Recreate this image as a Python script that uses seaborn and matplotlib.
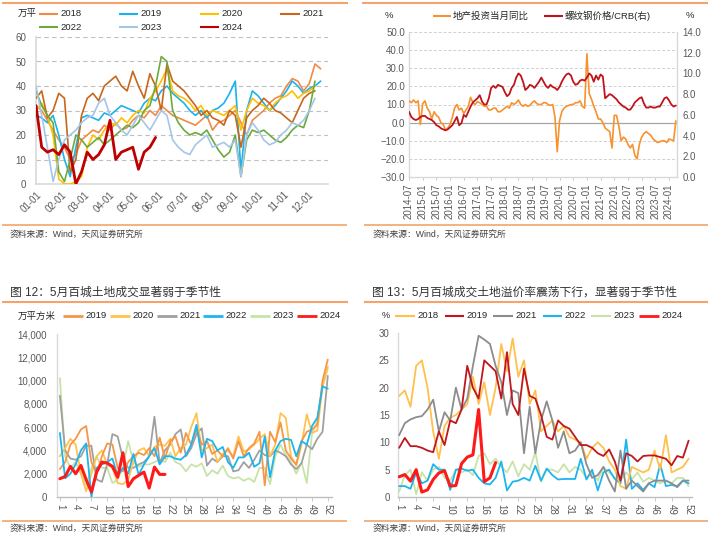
import numpy as np
import matplotlib
matplotlib.use('Agg')
import matplotlib.pyplot as plt
import seaborn as sns
from matplotlib.lines import Line2D

# ---------------- data ----------------
# Panel 1: weekly transaction area (万平), by year
tl_2018 = [32, 30, 26, 22, 18, 15, 10, 12, 18, 20, 22, 21, 24, 22, 25, 22, 23, 26, 28, 27, 30, 28, 32, 30,
           28, 27, 26, 25, 24, 26, 28, 22, 25, 26, 28, 30, 25, 20, 26, 28, 30, 33, 35, 36, 40, 43, 42, 38, 41, 49, 47]
tl_2019 = [28, 27, 25, 28, 20, 10, 3, 15, 27, 28, 27, 26, 29, 28, 30, 32, 31, 30, 29, 33, 35, 34, 38, 40,
           37, 35, 33, 30, 28, 30, 27, 30, 31, 33, 37, 42, 5, 30, 38, 36, 33, 30, 32, 35, 38, 42, 40, 37, 39, 40, 42]
tl_2020 = [30, 33, 28, 20, 2, 0, 0, 1, 3, 15, 20, 18, 22, 25, 24, 27, 25, 28, 30, 29, 35, 38, 42, 47,
           38, 36, 35, 33, 30, 32, 28, 30, 29, 28, 30, 32, 22, 30, 35, 33, 32, 30, 33, 35, 36, 38, 35, 37, 38, 40]
tl_2021 = [35, 38, 27, 30, 37, 35, 5, 10, 28, 35, 37, 34, 40, 42, 44, 40, 38, 46, 40, 35, 45, 40, 30, 49,
           42, 40, 38, 35, 32, 28, 30, 27, 26, 24, 30, 28, 15, 27, 30, 32, 35, 33, 30, 29, 27, 25, 30, 35, 37, 38]
tl_2022 = [38, 32, 28, 25, 5, 1, 10, 20, 18, 15, 17, 19, 16, 18, 20, 22, 24, 23, 25, 30, 32, 40, 52, 50,
           30, 25, 22, 20, 21, 20, 22, 18, 14, 11, 13, 20, 3, 18, 22, 21, 22, 20, 18, 17, 19, 22, 24, 23, 30, 42]
tl_2023 = [40, 28, 15, 1, 10, 18, 20, 22, 25, 27, 28, 33, 35, 28, 25, 22, 20, 24, 28, 25, 22, 26, 30, 28,
           18, 15, 13, 12, 16, 18, 20, 15, 16, 17, 15, 18, 3, 20, 25, 22, 18, 16, 17, 20, 22, 25, 24, 26, 30, 35]
tl_2024 = [32, 15, 13, 14, 12, 16, 13, 0, 5, 13, 10, 12, 16, 26, 10, 13, 14, 15, 6, 13, 15, 19]
tl_ticks = [0, 31, 59, 90, 120, 151, 181, 212, 243, 273, 304, 334]
tl_labels = ['01-01', '02-01', '03-01', '04-01', '05-01', '06-01', '07-01', '08-01', '09-01', '10-01', '11-01', '12-01']

# Panel 2: monthly, from 2014-07
tr_invest = [12, 11, 12.5, 11, 12, -1, 10.5, 12, 8, 6, 2, 6, 4, 3, 0, -1, -4, -3, -1, 3, 8, 10, 7, 8,
             5, 7, 9, 14, 11, 10, 11.5, 11, 10, 9, 9, 7, 7, 8, 8, 6, 6, 7, 8, 9, 8, 11, 10, 11,
             12.5, 10, 9, 10, 9, 9.5, 11, 12, 10.5, 10, 10, 11, 11, 10, 9.5, 10, 3, -16, 1, 6, 8, 9, 9.5, 10,
             10, 11, 11, 12, 9, 8, 38, 16, 13, 9, 6, 2, 2, 0, -3, -4, -5, -14, 4, 4, -2, -10, -8, -9,
             -12, -14, -12, -18, -20, -12, -8, -6, -5, -6, -7, -9, -10, -11, -10.5, -10, -10, -11, -9,
             -9.5, -10, 1]
tr_steel = [6.3, 5.8, 5.6, 5.5, 5.6, 5.8, 5.9, 5.9, 5.7, 5.6, 5.5, 5.3, 5.0, 4.9, 4.7, 4.6, 4.5, 4.6, 4.8, 5.0,
            5.4, 5.8, 5.0, 5.2, 6.0, 5.8, 6.3, 6.8, 7.2, 7.4, 7.6, 7.9, 7.3, 7.0, 7.0, 7.6, 8.6, 8.8, 8.6, 8.9,
            8.8, 8.7, 8.2, 7.8, 8.0, 8.6, 8.9, 9.6, 10.0, 9.8, 9.2, 8.4, 8.6, 8.9, 8.8, 8.6, 8.9, 9.2, 9.6, 9.2,
            8.8, 8.6, 8.9, 8.7, 8.6, 8.4, 8.7, 9.2, 9.6, 9.9, 10.0, 9.8, 9.2, 8.9, 9.0, 9.3, 9.4, 9.3, 9.6, 10.0,
            9.8, 9.2, 9.8, 9.4, 9.9, 9.7, 7.6, 7.8, 8.0, 7.9, 7.7, 7.5, 7.2, 7.0, 6.8, 6.7, 6.5, 6.5, 6.8, 7.2,
            7.4, 7.6, 7.7, 7.1, 6.7, 6.7, 6.8, 6.7, 6.7, 6.8, 6.8, 7.2, 7.6, 7.7, 7.4, 7.0, 6.8, 6.9]
tr_labels = ['2014-07', '2015-01', '2015-07', '2016-01', '2016-07', '2017-01', '2017-07', '2018-01', '2018-07',
             '2019-01', '2019-07', '2020-01', '2020-07', '2021-01', '2021-07', '2022-01', '2022-07', '2023-01',
             '2023-07', '2024-01']

# Panel 3: weekly land transaction area (万平方米)
bl_2019 = [2400, 3000, 4500, 5000, 5800, 6100, 3000, 2000, 3500, 4600, 4500, 2500, 2200, 3000, 3500, 3800, 3600,
           4200, 3500, 5100, 3300, 4800, 5200, 3800, 5500, 4500, 5800, 4500, 4800, 3700, 4000, 3500, 4200, 3300,
           4800, 3500, 4200, 4600, 5600, 1000, 5600, 4700, 6400, 4000, 3300, 2800, 4800, 5600, 5800, 6200, 10000, 11800]
bl_2020 = [3500, 4200, 5000, 4500, 2000, 500, 2000, 3500, 4000, 2800, 2500, 1200, 1100, 1500, 3000, 4000, 4200,
           3500, 4300, 4500, 4400, 5000, 3500, 4200, 4500, 6000, 7200, 4000, 4200, 4500, 3000, 3700, 4000, 3500,
           5200, 3900, 4100, 4500, 5000, 5400, 3500, 4500, 7200, 6800, 3500, 2700, 4500, 7100, 5500, 5700, 9500, 11200]
bl_2021 = [8700, 4000, 3300, 3200, 3500, 4400, 4400, 1500, 1300, 2800, 5400, 5200, 3300, 2500, 2500, 2800, 3000,
           3500, 6900, 2900, 4000, 4500, 5400, 5800, 3500, 4200, 5400, 5900, 2700, 3300, 3000, 3500, 3500, 2200,
           2300, 3000, 2500, 3200, 4000, 3600, 3500, 4000, 3800, 3500, 2800, 2400, 2900, 4500, 4100, 5000, 5600, 10400]
bl_2022 = [5500, 1600, 2000, 2800, 4000, 4600, 0, 2500, 2800, 3000, 3300, 1800, 2500, 2000, 3700, 1900, 2800,
           3500, 4200, 2800, 3500, 3500, 3300, 3200, 3600, 4500, 6200, 3400, 5000, 4800, 4000, 4300, 3000, 2500,
           3400, 3400, 3800, 2600, 2900, 5200, 1700, 4000, 4800, 5000, 4900, 3500, 4800, 4500, 6100, 6800, 9500, 9300]
bl_2023 = [10200, 3500, 2500, 3000, 2000, 1000, 2500, 3500, 2500, 2500, 1200, 1500, 2500, 4800, 3000, 2600, 2800,
           2800, 3000, 3200, 3000, 3800, 3000, 2800, 2200, 2800, 2600, 2900, 1800, 2300, 2000, 2700, 1800, 1600,
           1700, 1400, 1600, 1300, 2500, 2500, 1100, 3500, 4500, 3600, 3000, 2000, 3000, 1200, 5500, 6500, 9500, 11000]
bl_2024 = [1570, 1770, 2630, 2000, 2710, 1490, 430, 2140, 3000, 2910, 2630, 1700, 3800, 900, 1570, 1860, 2140,
           770, 2570, 1940, 1940]

# Panel 4: weekly land premium rate (%)
br_2018 = [18.5, 19.5, 16.5, 24, 25, 20, 12, 7, 13, 14.5, 15, 16, 17, 22, 17, 21, 15, 20, 28, 23, 29, 22, 25, 17,
           19.5, 12, 13, 14, 12, 13, 11, 10.5, 10, 7, 9, 10, 9, 6.5, 5, 2, 1.5, 5.5, 5, 4.5, 5, 8.5, 5, 11.3, 4.5,
           5, 5.5, 7]
br_2019 = [9, 10.8, 9.3, 9.3, 9, 8.5, 8.2, 12, 9.5, 14, 13.5, 16, 24, 20, 18, 25, 24, 23, 18, 26.5, 17, 15, 23.5,
           18.5, 18, 15, 11, 10.5, 14, 13, 12.5, 11, 9.5, 9.5, 9, 8, 7.5, 8.7, 6.5, 3, 8, 7.5, 6.5, 7.5, 7.6, 7.6,
           7.3, 7, 5.8, 7.5, 7.2, 10.3]
br_2021 = [11.3, 13.5, 14.2, 14.6, 14.8, 16, 17.8, 12, 15.5, 14, 20, 16, 18, 24, 29.5, 28.8, 28, 24, 21, 15, 19.5,
           19, 8, 16.5, 8, 14, 17.5, 14, 9, 12, 8, 8.5, 10, 6, 3.5, 4, 5.5, 3, 1, 8.5, 1.5, 3, 2, 1, 2.5, 3, 3, 3,
           2.5, 1.8, 3, 3]
br_2022 = [2, 2, 1.5, 4.5, 2.5, 3, 6, 5, 5, 1.3, 5, 5.2, 4.8, 5, 3.5, 2.5, 2.3, 3.5, 6.5, 1.2, 2.8, 3, 3.5, 3,
           5.7, 3, 5.2, 4, 3.2, 3.3, 3.3, 3.3, 7, 3.2, 5, 1.2, 4.5, 5, 3.3, 2.5, 10.5, 1.5, 2.5, 1.3, 2.5, 1.8, 6,
           2, 2.2, 2, 3, 2.5]
br_2023 = [1, 4, 5, 0.5, 4.5, 3, 5, 5.5, 3.5, 3, 5, 4.5, 5, 4, 7.5, 8, 6, 7, 5.5, 4.5, 6.5, 3.8, 6, 5, 8.2, 2.8,
           5, 5, 4.5, 6, 4.5, 5.5, 5, 3.5, 4.5, 3, 5.5, 4.5, 3.5, 3, 4.5, 3.2, 4.5, 2.8, 3.5, 3, 2.5, 3, 2.5, 3.5,
           3.5, 2]
br_2024 = [3.7, 4.1, 2.9, 5.0, 0.9, 1.3, 3.2, 4.4, 4.8, 2.0, 2.1, 6.1, 7.3, 7.7, 16.0, 2.8, 3.5, 6.3]
week_ticks = [1, 4, 7, 10, 13, 16, 19, 22, 25, 28, 31, 34, 37, 40, 43, 46, 49, 52]

# ---------------- style ----------------
sns.set_theme(style='white')
plt.rcParams['font.family'] = ['Liberation Sans', 'Noto Sans CJK SC', 'DejaVu Sans']

W, H = 712, 536
fig = plt.figure(figsize=(W / 100, H / 100), dpi=100)
fig.patch.set_facecolor('white')

ORANGE_LINE = '#F4A46A'
TICK_C = '#595959'
TXT_C = '#262626'
TS = 7


def box(l, t, r, b):
    return [l / W, 1 - b / H, (r - l) / W, (b - t) / H]


def fx(x):
    return x / W


def fy(y):
    return 1 - y / H


def hline(x0, x1, y, color, lw):
    fig.add_artist(Line2D([fx(x0), fx(x1)], [fy(y), fy(y)], color=color, lw=lw,
                          transform=fig.transFigure, solid_capstyle='butt'))


def text(x, y, s, size, color=TXT_C, ha='left', va='center'):
    fig.text(fx(x), fy(y), s, fontsize=size, color=color, ha=ha, va=va)


def leg(x0, x1, y, color, lw, label, size=6.8):
    hline(x0, x1, y, color, lw)
    text(x1 + 2, y, label, size)


def style_spines(ax, left=True, bottom=True, right=False, top=False, c='#D9D9D9', lw=1.0):
    for side, show in (('left', left), ('bottom', bottom), ('right', right), ('top', top)):
        ax.spines[side].set_visible(show)
        ax.spines[side].set_color(c)
        ax.spines[side].set_linewidth(lw)


SRC = '资料来源：Wind，天风证券研究所'

# ---------------- Panel 1 (top-left) ----------------
hline(2, 348, 3, ORANGE_LINE, 1.5)
ax1 = fig.add_axes(box(36, 37, 328, 184))
c1 = {'2018': '#F08A46', '2019': '#19B3EE', '2020': '#FFC000', '2021': '#C8661A',
      '2022': '#6AAA3F', '2023': '#A4C6E8', '2024': '#C00000'}
series1 = [('2018', tl_2018), ('2019', tl_2019), ('2020', tl_2020), ('2021', tl_2021),
           ('2022', tl_2022), ('2023', tl_2023), ('2024', tl_2024)]
for name, vals in series1:
    days = np.arange(len(vals)) * 7
    sns.lineplot(x=days, y=vals, ax=ax1, color=c1[name], lw=2.0 if name == '2024' else 1.2,
                 legend=False, zorder=5 if name == '2024' else 3)
ax1.set_xlim(0, 359)
ax1.set_ylim(0, 60)
ax1.set_yticks(range(0, 61, 10))
for v in range(10, 61, 10):
    ax1.axhline(v, color='#BFBFBF', lw=0.8, ls=(0, (4, 3)), zorder=1)
ax1.set_xticks(tl_ticks)
ax1.set_xticklabels(tl_labels, rotation=45, ha='right', va='top', rotation_mode='anchor')
ax1.tick_params(axis='both', length=0, labelsize=TS, colors=TICK_C)
ax1.tick_params(axis='y', pad=7)
ax1.tick_params(axis='x', pad=4)
ax1.set_xlabel('')
ax1.set_ylabel('')
style_spines(ax1, c='#D9D9D9', lw=1.2)
text(18, 13, '万平', 6.8)
leg(39, 58, 14, c1['2018'], 1.5, '2018')
leg(119, 138, 14, c1['2019'], 1.5, '2019')
leg(200, 219, 14, c1['2020'], 1.5, '2020')
leg(280, 300, 14, c1['2021'], 1.5, '2021')
leg(39, 58, 27, c1['2022'], 1.5, '2022')
leg(119, 138, 27, c1['2023'], 1.5, '2023')
leg(200, 219, 27, c1['2024'], 1.5, '2024')
hline(2, 347, 225, ORANGE_LINE, 1.2)
text(10, 234, SRC, 6.3, color='#404040')

# ---------------- Panel 2 (top-right) ----------------
hline(362, 708, 3, ORANGE_LINE, 1.5)
ax2 = fig.add_axes(box(409, 32, 677, 177))
months = np.arange(len(tr_invest))
for v in range(-20, 51, 10):
    if v != 0:
        ax2.axhline(v, color='#D0D0D0', lw=0.7, ls=(0, (3, 2)), zorder=1)
ax2.axhline(0, color='#A6A6A6', lw=0.9, zorder=2)
sns.lineplot(x=months, y=tr_invest, ax=ax2, color='#F7922E', lw=1.2, legend=False, zorder=4)
ax2.set_xlim(0, 117.5)
ax2.set_ylim(-30, 50)
ax2.set_yticks(range(-30, 51, 10))
ax2.set_yticklabels([f'{v:.1f}'.replace('-', '\u2212') for v in range(-30, 51, 10)])
ax2.set_xticks(np.arange(len(tr_labels)) * 6)
ax2.set_xticklabels(tr_labels, rotation=90, va='top', ha='center')
ax2.tick_params(axis='y', length=0, labelsize=TS, colors=TICK_C, pad=3)
ax2.tick_params(axis='x', length=2.5, width=0.6, color='#BFBFBF', labelsize=TS, colors=TICK_C, pad=2,
                direction='out', bottom=True)
ax2.set_xlabel('')
ax2.set_ylabel('')
style_spines(ax2, left=True, bottom=True, right=False, c='#D9D9D9', lw=1.0)
ax2b = ax2.twinx()
sns.lineplot(x=np.arange(len(tr_steel)), y=tr_steel, ax=ax2b, color='#C0141C', lw=1.3, legend=False, zorder=3)
ax2b.set_ylim(0, 14)
ax2b.set_yticks(range(0, 15, 2))
ax2b.set_yticklabels([f'{v:.1f}' for v in range(0, 15, 2)])
ax2b.tick_params(axis='y', length=0, labelsize=TS, colors=TICK_C, pad=4)
ax2b.set_ylabel('')
style_spines(ax2b, left=False, bottom=False, right=True, c='#D9D9D9', lw=1.0)
ax2b.grid(False)
ax2.grid(False)
text(385, 15, '%', 6.8)
text(686, 15, '%', 6.8)
leg(433, 451, 16, '#F7922E', 1.5, '地产投资当月同比')
leg(544, 563, 16, '#C0141C', 1.5, '螺纹钢价格/CRB(右)')
hline(364, 708, 225, ORANGE_LINE, 1.2)
text(373, 234, SRC, 6.3, color='#404040')

# ---------------- Panel 3 (bottom-left) ----------------
text(10, 293, '图 12：5月百城土地成交显著弱于季节性', 8.5, color='#333333')
hline(2, 348, 302, ORANGE_LINE, 1.5)
ax3 = fig.add_axes(box(57, 334, 332, 497))
c3 = {'2019': '#F79646', '2020': '#FFC34D', '2021': '#A0A0A0', '2022': '#1CB5EF',
      '2023': '#C8E3A8', '2024': '#FF1A1A'}
series3 = [('2023', bl_2023), ('2021', bl_2021), ('2020', bl_2020), ('2019', bl_2019),
           ('2022', bl_2022), ('2024', bl_2024)]
for name, vals in series3:
    wk = np.arange(1, len(vals) + 1)
    sns.lineplot(x=wk, y=vals, ax=ax3, color=c3[name], lw=2.2 if name == '2024' else 1.3,
                 legend=False, zorder=5 if name == '2024' else 3)
ax3.set_xlim(0.45, 52.8)
ax3.set_ylim(0, 14000)
ax3.set_yticks(range(0, 14001, 2000))
ax3.set_yticklabels([f'{v:,}' for v in range(0, 14001, 2000)])
ax3.set_xticks(week_ticks)
ax3.set_xticklabels([str(w) for w in week_ticks], rotation=270, va='top', ha='center')
ax3.tick_params(axis='y', length=0, labelsize=TS, colors=TICK_C, pad=7)
ax3.tick_params(axis='x', length=3, width=0.6, color='#BFBFBF', labelsize=TS, colors=TICK_C, pad=2,
                direction='out', bottom=True)
ax3.set_xlabel('')
ax3.set_ylabel('')
style_spines(ax3, c='#D9D9D9', lw=1.0)
ax3.spines['bottom'].set_color('#BFBFBF')
text(18, 316, '万平方米', 6.8)
leg(63, 83, 316, c3['2019'], 2.0, '2019')
leg(110, 130, 316, c3['2020'], 2.0, '2020')
leg(157, 177, 316, c3['2021'], 2.0, '2021')
leg(203, 223, 316, c3['2022'], 2.0, '2022')
leg(250, 270, 316, c3['2023'], 2.0, '2023')
leg(297, 317, 316, c3['2024'], 2.0, '2024')
hline(2, 347, 521, ORANGE_LINE, 1.2)
text(10, 528, SRC, 6.3, color='#404040')

# ---------------- Panel 4 (bottom-right) ----------------
text(372, 293, '图 13：5月百城成交土地溢价率震荡下行，显著弱于季节性', 8.5, color='#333333')
hline(364, 708, 302, ORANGE_LINE, 1.5)
ax4 = fig.add_axes(box(398, 333, 692, 497))
c4 = {'2018': '#FFC04D', '2019': '#C0161C', '2021': '#8C8C8C', '2022': '#1CB5EF',
      '2023': '#C8E3A8', '2024': '#FF1A1A'}
series4 = [('2023', br_2023), ('2022', br_2022), ('2018', br_2018), ('2021', br_2021),
           ('2019', br_2019), ('2024', br_2024)]
for name, vals in series4:
    wk = np.arange(1, len(vals) + 1)
    sns.lineplot(x=wk, y=vals, ax=ax4, color=c4[name], lw=2.2 if name == '2024' else 1.3,
                 legend=False, zorder=5 if name == '2024' else 3)
ax4.set_xlim(0.8, 52.6)
ax4.set_ylim(0, 30)
ax4.set_yticks(range(0, 31, 5))
ax4.set_xticks(week_ticks)
ax4.set_xticklabels([str(w) for w in week_ticks], rotation=270, va='top', ha='center')
ax4.tick_params(axis='y', length=0, labelsize=TS, colors=TICK_C, pad=6)
ax4.tick_params(axis='x', length=3, width=0.6, color='#BFBFBF', labelsize=TS, colors=TICK_C, pad=2,
                direction='out', bottom=True)
ax4.set_xlabel('')
ax4.set_ylabel('')
style_spines(ax4, c='#D9D9D9', lw=1.0)
ax4.spines['bottom'].set_color('#BFBFBF')
text(382, 316, '%', 6.5)
leg(395, 415, 316, c4['2018'], 1.5, '2018')
leg(445, 464, 316, c4['2019'], 1.5, '2019')
leg(493, 513, 316, c4['2021'], 1.5, '2021')
leg(543, 562, 316, c4['2022'], 1.5, '2022')
leg(591, 611, 316, c4['2023'], 1.5, '2023')
leg(639, 659, 316, c4['2024'], 2.0, '2024')
hline(364, 708, 521, ORANGE_LINE, 1.2)
text(373, 528, SRC, 6.3, color='#404040')

fig.savefig('out.png', dpi=100, facecolor='white')
